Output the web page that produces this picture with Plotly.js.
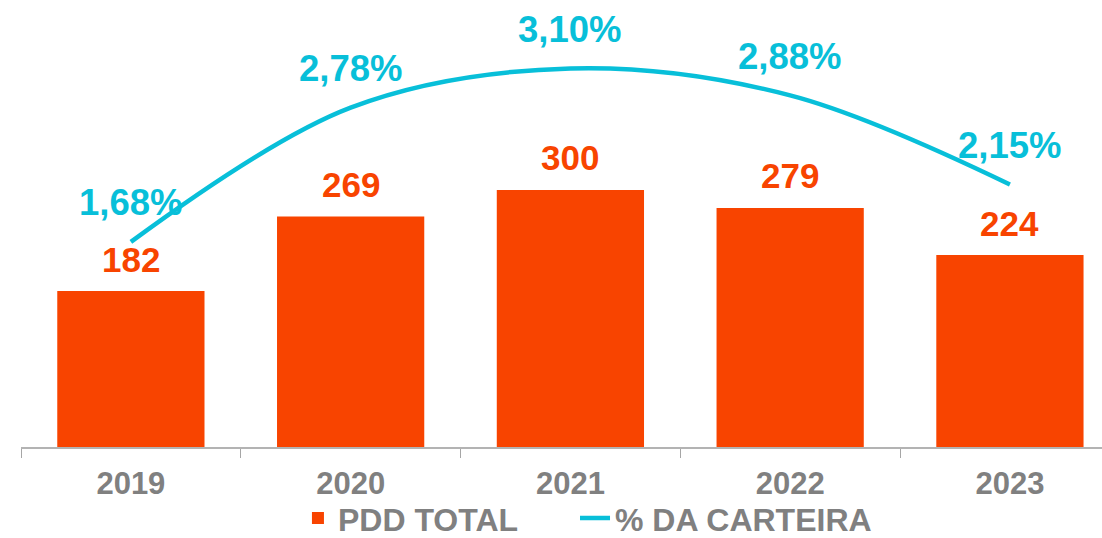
<!DOCTYPE html>
<html>
<head>
<meta charset="utf-8">
<script src="https://cdn.plot.ly/plotly-3.0.1.min.js"></script>
<style>
  html, body { margin: 0; padding: 0; background: #ffffff; }
  #chart { width: 1102px; height: 538px; }
</style>
</head>
<body>
<div id="chart"></div>
<script>
// ---- data ----
const years = ["2019", "2020", "2021", "2022", "2023"];
const pddTotal = [182, 269, 300, 279, 224];
const pctCarteira = [1.68, 2.78, 3.10, 2.88, 2.15];
const seriesNames = ["PDD TOTAL", "% DA CARTEIRA"];

// ---- styles ----
const ORANGE = "#F84400";
const CYAN = "#08BFD9";
const GRAY = "#808080";
const FONT = "Liberation Sans, Arial, sans-serif";

const barTrace = {
  type: "bar",
  name: seriesNames[0],
  x: years,
  y: pddTotal,
  width: 0.67,
  marker: { color: ORANGE },
  hoverinfo: "skip",
  yaxis: "y",
  legend: "legend"
};

const lineTrace = {
  type: "scatter",
  mode: "lines",
  name: seriesNames[1],
  x: years,
  y: pctCarteira,
  yaxis: "y2",
  line: { color: CYAN, width: 4.5, shape: "spline", smoothing: 1 },
  hoverinfo: "skip",
  legend: "legend2"
};

const annotations = [];
years.forEach((yr, i) => {
  annotations.push({
    x: i, y: pddTotal[i], xref: "x", yref: "y",
    text: String(pddTotal[i]),
    showarrow: false, yshift: 32, yanchor: "middle", xanchor: "center",
    font: { family: FONT, size: 35, color: ORANGE, weight: 700 }
  });
  annotations.push({
    x: i, y: pctCarteira[i], xref: "x", yref: "y2",
    text: pctCarteira[i].toFixed(2).replace(".", ",") + "%",
    showarrow: false, yshift: 39, yanchor: "middle", xanchor: "center",
    font: { family: FONT, size: 36.5, color: CYAN, weight: 700 }
  });
});

const legendBase = {
  orientation: "h",
  y: -0.163, yanchor: "middle",
  xanchor: "left",
  bgcolor: "rgba(0,0,0,0)",
  font: { family: FONT, size: 32, color: GRAY, weight: 700 }
};

const layout = {
  width: 1102,
  height: 538,
  margin: { l: 21, r: 0, t: 10, b: 91, autoexpand: false },
  paper_bgcolor: "#ffffff",
  plot_bgcolor: "#ffffff",
  showlegend: true,
  legend: Object.assign({}, legendBase, { x: 0.2562 }),
  legend2: Object.assign({}, legendBase, { x: 0.5125 }),
  xaxis: {
    type: "category",
    range: [-0.5, 4.419],
    automargin: false,
    tickson: "boundaries",
    ticks: "outside",
    ticklen: 9,
    tickcolor: "#a6a6a6",
    tickwidth: 1,
    ticklabelstandoff: 8,
    showline: true,
    linecolor: "#b3b3b3",
    linewidth: 1.5,
    showgrid: false,
    zeroline: false,
    tickfont: { family: FONT, size: 31, color: GRAY, weight: 700 },
    fixedrange: true
  },
  yaxis: {
    range: [0, 510],
    visible: false,
    showgrid: false,
    zeroline: false,
    fixedrange: true
  },
  yaxis2: {
    range: [0, 3.579],
    overlaying: "y",
    side: "right",
    visible: false,
    showgrid: false,
    zeroline: false,
    fixedrange: true
  },
  annotations: annotations,
  bargap: 0.33
};

Plotly.newPlot("chart", [barTrace, lineTrace], layout, { displayModeBar: false, staticPlot: true });
</script>
</body>
</html>
